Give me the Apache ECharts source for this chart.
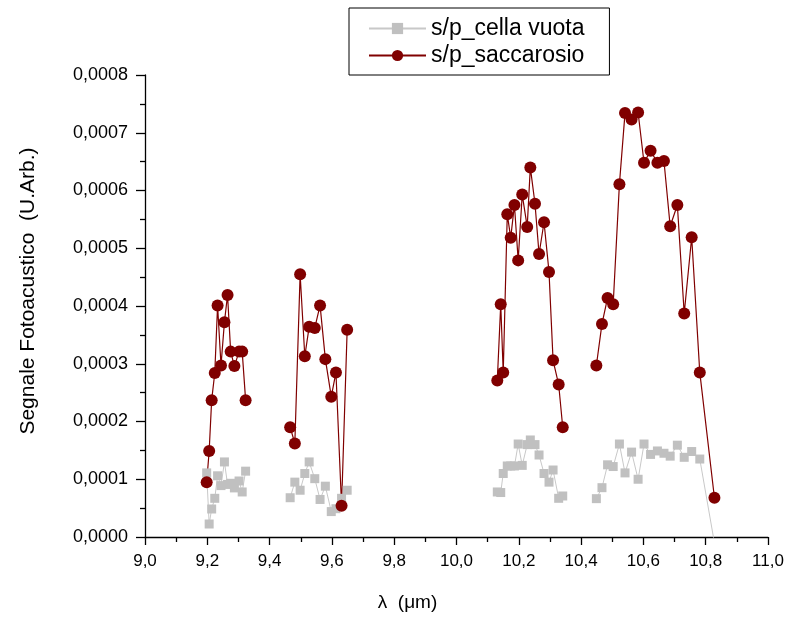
<!DOCTYPE html>
<html>
<head>
<meta charset="utf-8">
<script src="https://cdn.jsdelivr.net/npm/echarts@6/dist/echarts.min.js"></script>
<style>
html,body{margin:0;padding:0;background:#fff;}
#chart{width:791px;height:622px;}
</style>
</head>
<body>
<div id="chart"></div>
<script>
// Wavelengths (µm), four groups
const lambda1 = [9.198, 9.206, 9.214, 9.224, 9.233, 9.244, 9.255, 9.265, 9.275, 9.287, 9.302, 9.312, 9.323];
const lambda2 = [9.466, 9.481, 9.498, 9.513, 9.527, 9.545, 9.562, 9.579, 9.598, 9.613, 9.631, 9.649];
const lambda3 = [10.131, 10.142, 10.150, 10.163, 10.174, 10.186, 10.198, 10.211, 10.227, 10.237, 10.252, 10.265, 10.281, 10.297, 10.310, 10.328, 10.341];
const lambda4 = [10.449, 10.467, 10.485, 10.503, 10.523, 10.541, 10.562, 10.583, 10.602, 10.623, 10.645, 10.666, 10.686, 10.709, 10.731, 10.755, 10.781, 10.828];

// s/p_saccarosio
const sacc1 = [0.000095, 0.000149, 0.000237, 0.000284, 0.000401, 0.000297, 0.000372, 0.000419, 0.000321, 0.000296, 0.000321, 0.000321, 0.000237];
const sacc2 = [0.000190, 0.000162, 0.000455, 0.000313, 0.000364, 0.000362, 0.000401, 0.000308, 0.000243, 0.000285, 0.000054, 0.000359];
const sacc3 = [0.000271, 0.000403, 0.000285, 0.000559, 0.000518, 0.000575, 0.000479, 0.000593, 0.000537, 0.000640, 0.000577, 0.000490, 0.000545, 0.000459, 0.000306, 0.000264, 0.000190];
const sacc4 = [0.000297, 0.000369, 0.000414, 0.000403, 0.000611, 0.000734, 0.000723, 0.000735, 0.000648, 0.000669, 0.000648, 0.000651, 0.000538, 0.000575, 0.000387, 0.000519, 0.000285, 0.000068];

// s/p_cella vuota
const cella1 = [0.000111, 0.0000225, 0.0000485, 0.000067, 0.000106, 0.000089, 0.000130, 0.000091, 0.000093, 0.000085, 0.000097, 0.000078, 0.000114];
const cella2 = [0.000068, 0.000095, 0.000081, 0.000110, 0.000130, 0.000101, 0.000065, 0.000088, 0.000044, 0.000049, 0.000067, 0.000081];
const cella3 = [0.000078, 0.000077, 0.000110, 0.000123, 0.000123, 0.000123, 0.000161, 0.000124, 0.000160, 0.000168, 0.000160, 0.000142, 0.000110, 0.000095, 0.000116, 0.000067, 0.000071];
const cella4 = [0.0000664, 0.0000854, 0.000125, 0.000122, 0.000161, 0.000111, 0.000147, 0.000100, 0.000161, 0.000143, 0.000149, 0.000145, 0.000140, 0.000159, 0.000138, 0.000148, 0.000135, -0.00001];

const xTicks = ['9,0','9,2','9,4','9,6','9,8','10,0','10,2','10,4','10,6','10,8','11,0'];
const yTicks = ['0,0000','0,0001','0,0002','0,0003','0,0004','0,0005','0,0006','0,0007','0,0008'];

function build(groupsX, groupsY) {
  const out = [];
  groupsX.forEach((xs, g) => {
    if (g > 0) out.push([null, null]);
    xs.forEach((x, i) => out.push([x, groupsY[g][i]]));
  });
  return out;
}
const saccData = build([lambda1, lambda2, lambda3, lambda4], [sacc1, sacc2, sacc3, sacc4]);
const cellaData = build([lambda1, lambda2, lambda3, lambda4], [cella1, cella2, cella3, cella4]);

const chart = echarts.init(document.getElementById('chart'), null, {renderer: 'canvas'});
const FONT = 'Liberation Sans, Arial, sans-serif';
chart.setOption({
  animation: false,
  backgroundColor: '#ffffff',
  grid: {left: 145, right: 23, top: 75, bottom: 85, containLabel: false},
  legend: {
    orient: 'vertical',
    left: 349, top: 8,
    padding: [9, 25, 8, 19],
    borderColor: '#000', borderWidth: 1,
    itemWidth: 57, itemHeight: 14, itemGap: 4,
    textStyle: {fontFamily: FONT, fontSize: 23, color: '#000'},
    data: ['s/p_cella vuota', 's/p_saccarosio']
  },
  xAxis: {
    type: 'value', min: 9, max: 11, interval: 0.2,
    name: 'λ  (μm)', nameLocation: 'middle', nameGap: 56,
    nameTextStyle: {fontFamily: FONT, fontSize: 19, color: '#000', padding: [0, 98, 0, 0]},
    axisLine: {show: true, onZero: false, lineStyle: {color: '#000', width: 1.3}},
    axisTick: {show: true, inside: false, length: 8, lineStyle: {color: '#000', width: 1.3}},
    minorTick: {show: true, splitNumber: 2, length: 5, lineStyle: {color: '#000', width: 1.3}},
    splitLine: {show: false},
    axisLabel: {fontFamily: FONT, fontSize: 17, color: '#000', margin: 16,
      formatter: v => xTicks[Math.round((v - 9) / 0.2)]}
  },
  yAxis: {
    type: 'value', min: 0, max: 0.0008, interval: 0.0001,
    name: 'Segnale Fotoacustico  (U.Arb.)', nameLocation: 'middle', nameGap: 106,
    nameTextStyle: {fontFamily: FONT, fontSize: 21, color: '#000', padding: [0, 0, 0, 30]},
    axisLine: {show: true, onZero: false, lineStyle: {color: '#000', width: 1.3}},
    axisTick: {show: true, inside: false, length: 9, lineStyle: {color: '#000', width: 1.3}},
    minorTick: {show: true, splitNumber: 2, length: 5, lineStyle: {color: '#000', width: 1.3}},
    splitLine: {show: false},
    axisLabel: {fontFamily: FONT, fontSize: 18, color: '#000', margin: 17,
      formatter: v => yTicks[Math.round(v / 0.0001)]}
  },
  series: [
    {
      name: 's/p_cella vuota', type: 'line', data: cellaData,
      connectNulls: false, clip: true,
      symbol: 'rect', symbolSize: 9,
      itemStyle: {color: '#c0c0c0'},
      lineStyle: {color: '#c8c8c8', width: 1}
    },
    {
      name: 's/p_saccarosio', type: 'line', data: saccData,
      connectNulls: false, clip: true,
      symbol: 'circle', symbolSize: 12,
      itemStyle: {color: '#800000'},
      lineStyle: {color: '#800000', width: 1.2}
    }
  ]
});
</script>
</body>
</html>
